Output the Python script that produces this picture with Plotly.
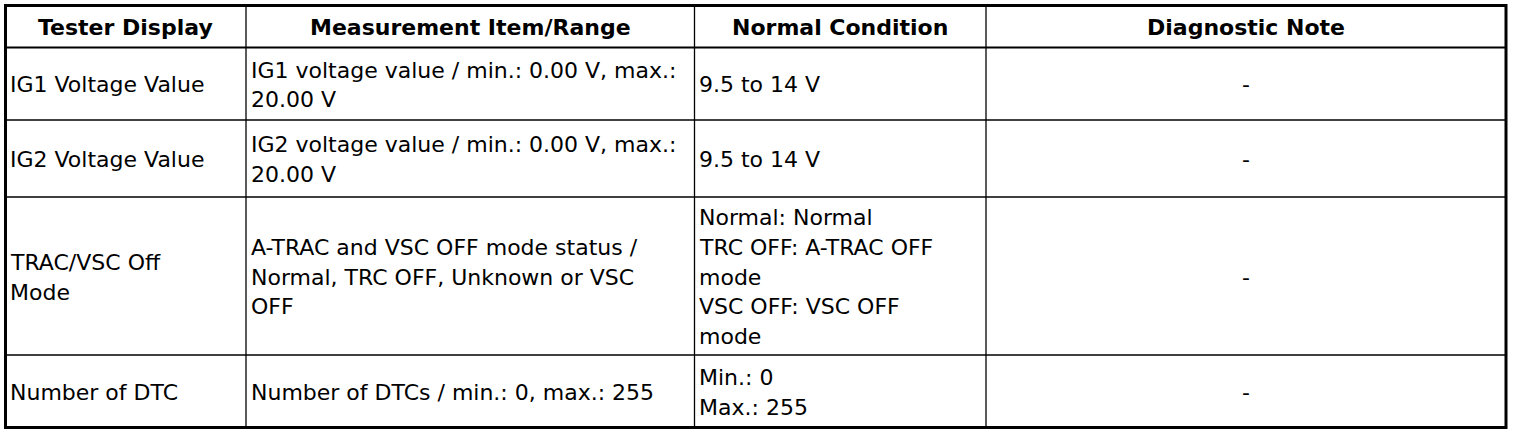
"""Tester data list table recreated with Plotly shapes and annotations."""

import plotly.graph_objects as go

# Table content (each cell's wrapped lines joined with "\n")
headers = ["Tester Display", "Measurement Item/Range", "Normal Condition", "Diagnostic Note"]
tester_display = [
    "IG1 Voltage Value",
    "IG2 Voltage Value",
    "TRAC/VSC Off\nMode",
    "Number of DTC",
]
measurement_range = [
    "IG1 voltage value / min.: 0.00 V, max.:\n20.00 V",
    "IG2 voltage value / min.: 0.00 V, max.:\n20.00 V",
    "A-TRAC and VSC OFF mode status /\nNormal, TRC OFF, Unknown or VSC\nOFF",
    "Number of DTCs / min.: 0, max.: 255",
]
normal_condition = [
    "9.5 to 14 V",
    "9.5 to 14 V",
    "Normal: Normal\nTRC OFF: A-TRAC OFF\nmode\nVSC OFF: VSC OFF\nmode",
    "Min.: 0\nMax.: 255",
]
diagnostic_note = ["-", "-", "-", "-"]

columns = [tester_display, measurement_range, normal_condition, diagnostic_note]
col_align = ["left", "left", "left", "center"]

# Layout geometry (pixel-like axis units, y grows downward)
W, H = 1520, 434
col_edges = [5.5, 246, 694.5, 986, 1506]
row_edges = [5.5, 47.5, 120, 197, 355, 427.5]
line_step = 29.7
pad_left = 2.5
text_shift = 1.2  # nudge text slightly below the cell's centre line
FONT = "DejaVu Sans, Liberation Sans, Arial, sans-serif"
FONT_SIZE = 22

fig = go.Figure()

shapes = []
# inner vertical dividers
for x in col_edges[1:-1]:
    shapes.append(dict(type="line", x0=x, x1=x, y0=row_edges[0], y1=row_edges[-1],
                       line=dict(color="black", width=1.3)))
# inner horizontal dividers
for i, y in enumerate(row_edges[1:-1]):
    shapes.append(dict(type="line", x0=col_edges[0], x1=col_edges[-1], y0=y, y1=y,
                       line=dict(color="black", width=2 if i == 0 else 1.5)))
# thick outer border
shapes.append(dict(type="rect", x0=col_edges[0], x1=col_edges[-1],
                   y0=row_edges[0], y1=row_edges[-1],
                   line=dict(color="black", width=3)))
for s in shapes:
    s.update(xref="x", yref="y")

annotations = []


def add_cell(text, c, r, align, bold=False):
    lines = text.split("\n")
    yc = (row_edges[r] + row_edges[r + 1]) / 2 + text_shift
    if align == "center":
        x = (col_edges[c] + col_edges[c + 1]) / 2
        xanchor = "center"
    else:
        x = col_edges[c] + pad_left
        xanchor = "left"
    n = len(lines)
    for k, line in enumerate(lines):
        y = yc + (k - (n - 1) / 2) * line_step
        annotations.append(dict(
            x=x, y=y, xref="x", yref="y", text=f"<b>{line}</b>" if bold else line,
            showarrow=False, xanchor=xanchor, yanchor="middle",
            font=dict(family=FONT, size=FONT_SIZE, color="black"),
        ))


for c, h in enumerate(headers):
    add_cell(h, c, 0, "center", bold=True)

for c, col in enumerate(columns):
    for r, txt in enumerate(col):
        add_cell(txt, c, r + 1, col_align[c])

fig.update_layout(
    width=W,
    height=H,
    margin=dict(l=0, r=0, t=0, b=0),
    paper_bgcolor="white",
    plot_bgcolor="white",
    shapes=shapes,
    annotations=annotations,
    showlegend=False,
)
fig.update_xaxes(range=[0, W], visible=False, fixedrange=True)
fig.update_yaxes(range=[H, 0], visible=False, fixedrange=True)

# drop the browser's default body margin so the figure sits at the page origin
fig.write_html(
    "out.html",
    config={"displayModeBar": False},
    post_script="document.body.style.margin='0';",
)
